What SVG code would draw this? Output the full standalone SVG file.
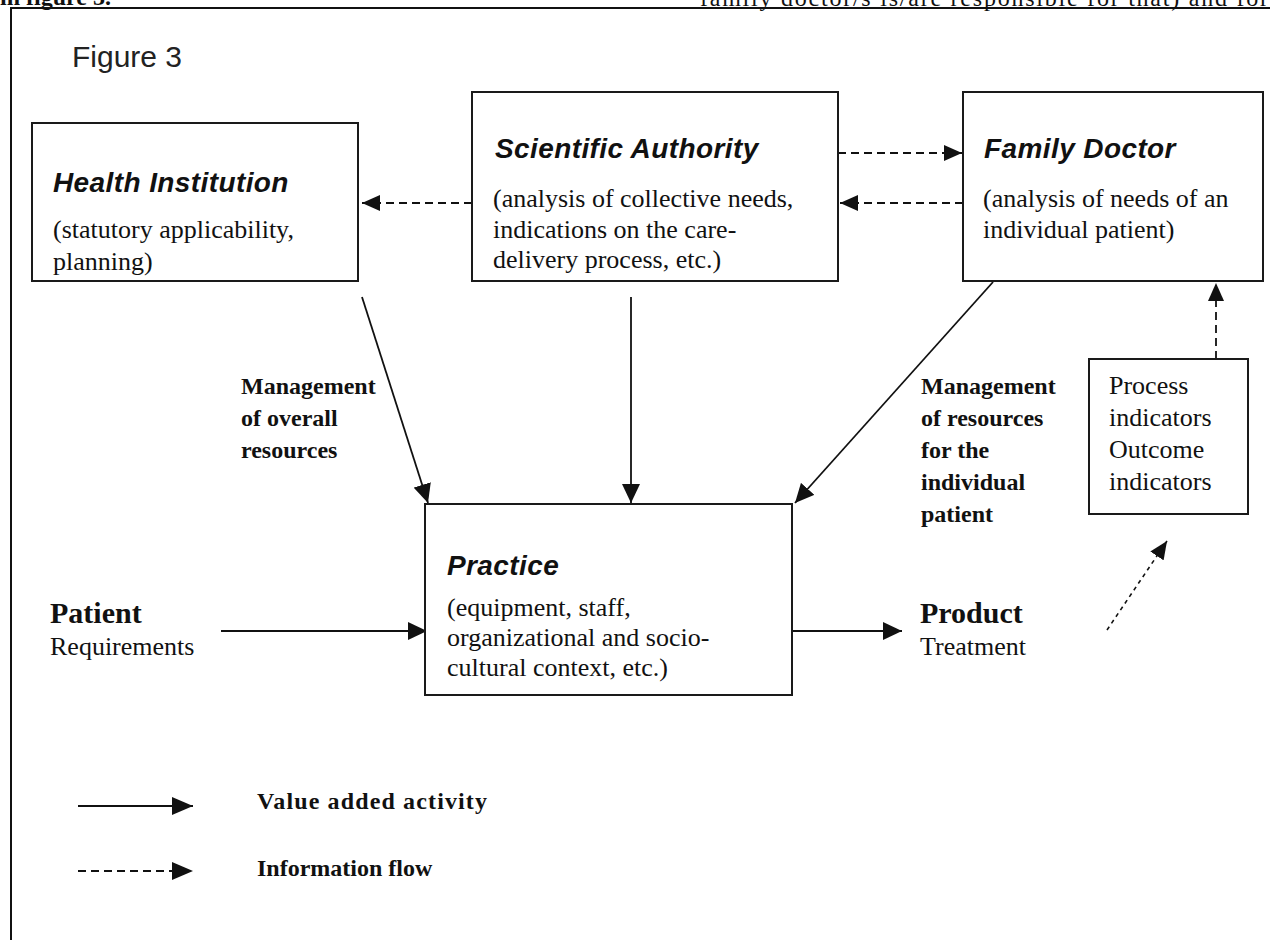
<svg xmlns="http://www.w3.org/2000/svg" width="1270" height="940" viewBox="0 0 1270 940">
<style>
.box{fill:#fff;stroke:#1a1a1a;stroke-width:2}
.title{font-family:"Liberation Sans",Arial,sans-serif;font-weight:bold;font-style:italic;font-size:28px;letter-spacing:0.4px;fill:#111}
.body{font-family:"Liberation Serif","Times New Roman",serif;font-size:26px;fill:#111}
.bold{font-family:"Liberation Serif","Times New Roman",serif;font-size:24px;font-weight:bold;fill:#111}
.big{font-family:"Liberation Serif","Times New Roman",serif;font-size:30px;font-weight:bold;fill:#111}
.solid{stroke:#111;stroke-width:1.8;fill:none}
.dash{stroke:#111;stroke-width:1.8;fill:none;stroke-dasharray:8 5}
.dot{stroke:#111;stroke-width:1.6;fill:none;stroke-dasharray:4 4}
</style>
<defs>
<marker id="ah" markerUnits="userSpaceOnUse" markerWidth="20" markerHeight="18" refX="19" refY="9" orient="auto"><path d="M0,0 L19,9 L0,18 z" fill="#111"/></marker>
<marker id="ahs" markerUnits="userSpaceOnUse" markerWidth="19" markerHeight="16" refX="18" refY="8" orient="auto"><path d="M0,0 L18,8 L0,16 z" fill="#111"/></marker>
<marker id="ahl" markerUnits="userSpaceOnUse" markerWidth="22" markerHeight="18" refX="21" refY="9" orient="auto"><path d="M0,0 L21,9 L0,18 z" fill="#111"/></marker>
</defs>
<rect width="1270" height="940" fill="#fff"/>
<g id="page">
<text x="0" y="5" class="bold">in figure 3.</text>
<text x="700" y="6" class="body" style="font-size:24px" textLength="568" lengthAdjust="spacing">family doctor/s is/are responsible for that) and for</text>
<path d="M11,940 L11,8 L1270,8" fill="none" stroke="#111" stroke-width="2"/>
<text x="72" y="67" font-family="Liberation Sans,Arial,sans-serif" font-size="30" fill="#222">Figure 3</text>
</g>
<g id="connectors">
<line class="dash" x1="472" y1="203" x2="362" y2="203" marker-end="url(#ahs)"/>
<line class="dash" x1="838" y1="153" x2="962" y2="153" marker-end="url(#ahs)"/>
<line class="dash" x1="963" y1="203" x2="840" y2="203" marker-end="url(#ahs)"/>
<line class="dash" x1="1216" y1="359" x2="1216" y2="283" marker-end="url(#ahs)"/>
<line class="solid" x1="362" y1="297" x2="428" y2="503" marker-end="url(#ah)"/>
<line class="solid" x1="631" y1="297" x2="631" y2="503" marker-end="url(#ah)"/>
<line class="solid" x1="993" y1="282" x2="795" y2="503" marker-end="url(#ah)"/>
<line class="solid" x1="221" y1="631" x2="427" y2="631" marker-end="url(#ah)"/>
<line class="solid" x1="792" y1="631" x2="902" y2="631" marker-end="url(#ah)"/>
<line class="dot" x1="1107" y1="630" x2="1167" y2="541" marker-end="url(#ahs)"/>
</g>
<g id="health-institution">
<rect class="box" x="32" y="123" width="326" height="158"/>
<text x="53" y="192" class="title">Health Institution</text>
<text x="53" y="238" class="body">(statutory applicability,</text>
<text x="53" y="270" class="body">planning)</text>
</g>
<g id="scientific-authority">
<rect class="box" x="472" y="92" width="366" height="189"/>
<text x="495" y="158" class="title">Scientific Authority</text>
<text x="493" y="207" class="body">(analysis of collective needs,</text>
<text x="493" y="238" class="body">indications on the care-</text>
<text x="493" y="268" class="body">delivery process, etc.)</text>
</g>
<g id="family-doctor">
<rect class="box" x="963" y="92" width="300" height="189"/>
<text x="984" y="158" class="title">Family Doctor</text>
<text x="983" y="207" class="body">(analysis of needs of an</text>
<text x="983" y="238" class="body">individual patient)</text>
</g>
<g id="practice">
<rect class="box" x="425" y="504" width="367" height="191"/>
<text x="447" y="575" class="title">Practice</text>
<text x="447" y="616" class="body">(equipment, staff,</text>
<text x="447" y="646" class="body">organizational and socio-</text>
<text x="447" y="676" class="body">cultural context, etc.)</text>
</g>
<g id="indicators">
<rect class="box" x="1089" y="359" width="159" height="155"/>
<text x="1109" y="394" class="body">Process</text>
<text x="1109" y="426" class="body">indicators</text>
<text x="1109" y="458" class="body">Outcome</text>
<text x="1109" y="490" class="body">indicators</text>
</g>
<g id="patient">
<text x="50" y="623" class="big">Patient</text>
<text x="50" y="655" class="body">Requirements</text>
</g>
<g id="product">
<text x="920" y="623" class="big">Product</text>
<text x="920" y="655" class="body">Treatment</text>
</g>
<g id="label-overall">
<text x="241" y="394" class="bold">Management</text>
<text x="241" y="426" class="bold">of overall</text>
<text x="241" y="458" class="bold">resources</text>
</g>
<g id="label-individual">
<text x="921" y="394" class="bold">Management</text>
<text x="921" y="426" class="bold">of resources</text>
<text x="921" y="458" class="bold">for the</text>
<text x="921" y="490" class="bold">individual</text>
<text x="921" y="522" class="bold">patient</text>
</g>
<g id="legend">
<line class="solid" x1="78" y1="806" x2="193" y2="806" marker-end="url(#ahl)"/>
<line class="dash" x1="78" y1="871" x2="193" y2="871" marker-end="url(#ahl)"/>
<text x="257" y="809" class="bold" textLength="230" lengthAdjust="spacing">Value added activity</text>
<text x="257" y="876" class="bold">Information flow</text>
</g>
</svg>
